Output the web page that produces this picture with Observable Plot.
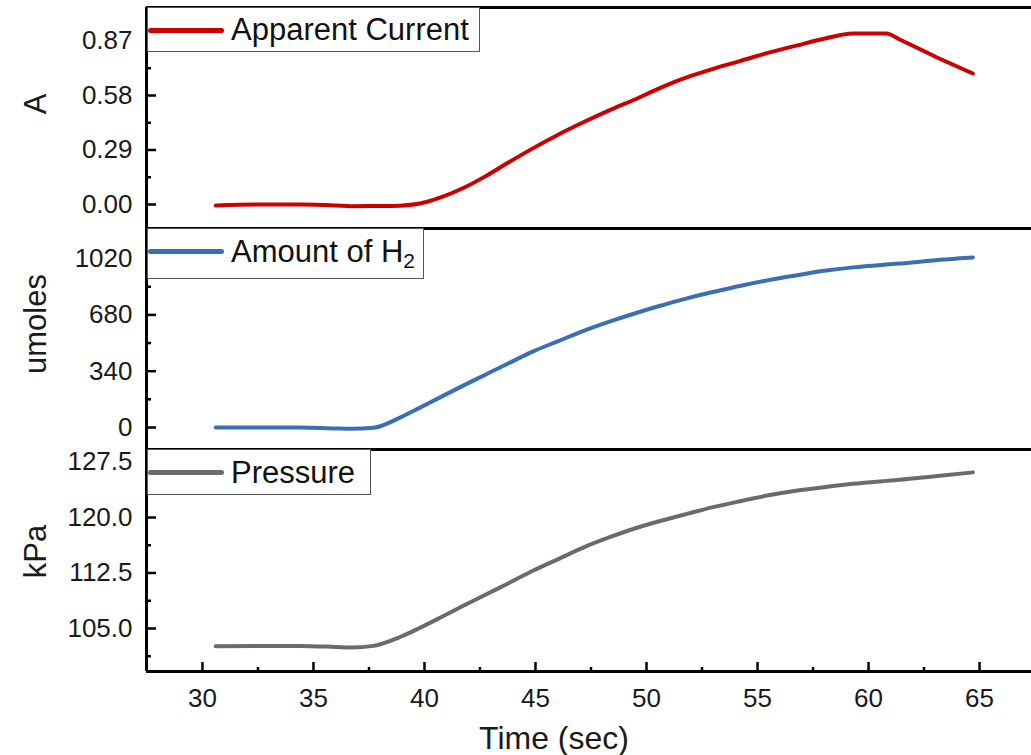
<!DOCTYPE html>
<html>
<head>
<meta charset="utf-8">
<script src="https://cdn.jsdelivr.net/npm/d3@7"></script>
<script src="https://cdn.jsdelivr.net/npm/@observablehq/plot@0.6"></script>
<style>
  body { margin: 0; background: #fff; }
  #chart { position: relative; width: 1031px; height: 755px; font-family: "Liberation Sans", Arial, sans-serif; color: #111; overflow: hidden; }
  #chart svg { position: absolute; left: 0; }
  .legend { position: absolute; left: 147px; background: #fff; border: 1px solid #555; box-sizing: border-box; }
  .legend .swatch { position: absolute; left: 0; width: 76px; height: 5px; border-radius: 2.5px; }
  .legend .label { position: absolute; left: 83px; font-size: 31px; line-height: 1; white-space: nowrap; }
  .legend sub { font-size: 21px; vertical-align: -6px; line-height: 0; }
</style>
</head>
<body>
<div id="chart"></div>
<script>
// Sample times (s) shared by the three recorded signals
const time = [30.6, 32.5, 34.4, 36.0, 36.7, 37.7, 38.9, 39.8, 40.7, 41.7, 42.7, 43.7, 44.9, 46.0, 47.2,
              48.4, 49.5, 50.7, 51.9, 53.0, 54.2, 55.5, 56.8, 58.0, 59.3, 60.8, 61.4, 62.9, 64.7];

// Apparent current (A)
const current = [-0.005, 0.000, 0.000, -0.005, -0.009, -0.008, -0.006, 0.005, 0.036, 0.085, 0.147, 0.218, 0.300, 0.370, 0.440,
                 0.505, 0.560, 0.625, 0.680, 0.722, 0.763, 0.808, 0.847, 0.882, 0.910, 0.910, 0.878, 0.793, 0.697];

// Amount of H2 (umoles)
const hydrogen = [0, 0, 0, -6, -8, -2, 60, 120, 182, 250, 316, 382, 460, 520, 585,
                  642, 690, 738, 783, 818, 855, 890, 920, 946, 967, 984, 990, 1009, 1027];

// Pressure (kPa)
const pressure = [102.6, 102.65, 102.65, 102.5, 102.42, 102.65, 103.85, 105.1, 106.45, 108.0, 109.5, 110.98, 112.83, 114.35, 116.0,
                  117.4, 118.55, 119.6, 120.55, 121.4, 122.2, 123.0, 123.65, 124.1, 124.55, 124.95, 125.1, 125.55, 126.1];

// Axis ticks
const xTicks = [30, 35, 40, 45, 50, 55, 60, 65];
const xMinorTicks = [32.5, 37.5, 42.5, 47.5, 52.5, 57.5, 62.5];
const currentTicks = [0, 0.29, 0.58, 0.87];
const currentMinorTicks = [0.145, 0.435, 0.725];
const hydrogenTicks = [0, 340, 680, 1020];
const hydrogenMinorTicks = [170, 510, 850];
const pressureTicks = [105, 112.5, 120, 127.5];
const pressureMinorTicks = [101.25, 108.75, 116.25, 123.75];

const seriesNames = ["Apparent Current", "Amount of H", "Pressure"];
const seriesUnits = ["A", "umoles", "kPa"];
const seriesColors = ["#cc0000", "#3c6eb4", "#6b6b6b"];

const W = 1031;
const xDomain = [27.48, 67.34];
const font = `"Liberation Sans", Arial, sans-serif`;

function panel({values, color, unit, yDomain, ticks, minor, fmt, unitDy, top, height, marginTop, marginBottom, bottomAxis, curve}) {
  const data = time.map((t, i) => ({t, v: values[i]}));
  const marks = [
    Plot.axisY(minor, {tickSize: -5, tickFormat: () => "", strokeWidth: 2.5, stroke: "#000", label: null}),
    Plot.axisY(ticks, {tickSize: -10, tickFormat: () => "", strokeWidth: 2.5, stroke: "#000", label: null}),
    Plot.axisY(ticks, {tickSize: 0, tickPadding: 14, tickFormat: fmt, fontSize: 26, fill: "#1a1a1a", label: null}),
    Plot.text([unit], {frameAnchor: "left", textAnchor: "middle", lineAnchor: "middle", dx: -110, dy: unitDy, rotate: -90, fontSize: 31, fill: "#1a1a1a"}),
    Plot.line(data, {x: "t", y: "v", stroke: color, strokeWidth: 4, curve, strokeLinecap: "round", strokeLinejoin: "round"}),
    Plot.ruleY([yDomain[1]], {stroke: "#000", strokeWidth: 3}),
    Plot.ruleX([xDomain[0]], {stroke: "#000", strokeWidth: 3})
  ];
  if (bottomAxis) {
    marks.push(
      Plot.axisX(xMinorTicks, {tickSize: -4, tickFormat: () => "", strokeWidth: 2.5, stroke: "#000", label: null}),
      Plot.axisX(xTicks, {tickSize: -9, tickFormat: () => "", strokeWidth: 2.5, stroke: "#000", label: null}),
      Plot.axisX(xTicks, {tickSize: 0, tickPadding: 17, fontSize: 26, fill: "#1a1a1a", label: null}),
      Plot.text(["Time (sec)"], {frameAnchor: "bottom", textAnchor: "middle", lineAnchor: "middle", dx: -35, dy: 67, fontSize: 32, fill: "#1a1a1a"}),
      Plot.ruleY([yDomain[0]], {stroke: "#000", strokeWidth: 3})
    );
  }
  const svg = Plot.plot({
    width: W,
    height,
    marginLeft: 146,
    marginRight: 0,
    marginTop,
    marginBottom,
    style: `background: none; overflow: visible; font-family: ${font};`,
    x: {domain: xDomain, axis: null},
    y: {domain: yDomain, axis: null},
    marks
  });
  svg.style.top = top + "px";
  return svg;
}

const chart = document.getElementById("chart");

chart.append(panel({
  values: current, color: seriesColors[0], unit: seriesUnits[0],
  yDomain: [-0.1277, 1.0483], ticks: currentTicks, minor: currentMinorTicks, fmt: d3.format(".2f"),
  unitDy: -14, top: 0, height: 228, marginTop: 7, marginBottom: 0, curve: "monotone-x"
}));
chart.append(panel({
  values: hydrogen, color: seriesColors[1], unit: seriesUnits[1],
  yDomain: [-132.9, 1201.8], ticks: hydrogenTicks, minor: hydrogenMinorTicks, fmt: d => String(d),
  unitDy: -15, top: 228, height: 221, marginTop: 0, marginBottom: 0, curve: "monotone-x"
}));
chart.append(panel({
  values: pressure, color: seriesColors[2], unit: seriesUnits[2],
  yDomain: [99.19, 129.19], ticks: pressureTicks, minor: pressureMinorTicks, fmt: d3.format(".1f"),
  unitDy: -9, top: 449, height: 306, marginTop: 0, marginBottom: 84, curve: "monotone-x", bottomAxis: true
}));

// Legend boxes in the upper-left corner of each panel
const legends = [
  {top: 7, height: 45, width: 333, swatchTop: 20, labelTop: 6, html: seriesNames[0]},
  {top: 228, height: 51, width: 277, swatchTop: 20, labelTop: 7, html: seriesNames[1] + "<sub>2</sub>"},
  {top: 449, height: 46, width: 224, swatchTop: 20, labelTop: 7, html: seriesNames[2]}
];
legends.forEach((l, i) => {
  const box = document.createElement("div");
  box.className = "legend";
  box.style.top = l.top + "px";
  box.style.height = l.height + "px";
  box.style.width = l.width + "px";
  const sw = document.createElement("div");
  sw.className = "swatch";
  sw.style.top = l.swatchTop + "px";
  sw.style.background = seriesColors[i];
  const lab = document.createElement("div");
  lab.className = "label";
  lab.style.top = l.labelTop + "px";
  lab.innerHTML = l.html;
  box.append(sw, lab);
  chart.append(box);
});
</script>
</body>
</html>
